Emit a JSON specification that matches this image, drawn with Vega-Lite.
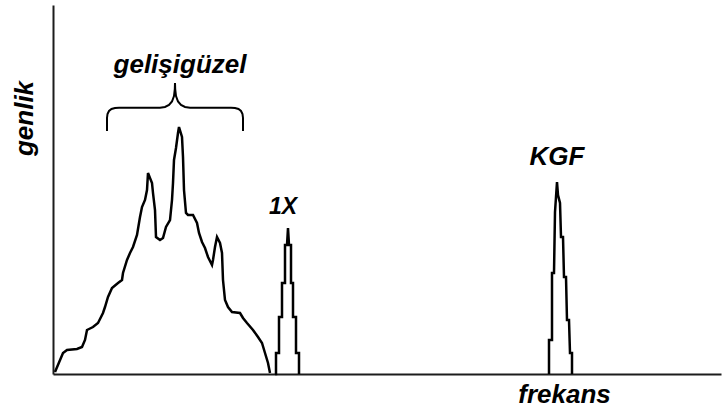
{
  "$schema": "https://vega.github.io/schema/vega-lite/v6.json",
  "width": 668,
  "height": 369,
  "autosize": {"type": "none"},
  "padding": {"left": 53, "top": 5, "right": 6, "bottom": 38},
  "background": "white",
  "config": {"view": {"stroke": null}},
  "datasets": {
    "spectrum": [
      {"band": "random", "f": 2, "a": 2},
      {"band": "random", "f": 10, "a": 21},
      {"band": "random", "f": 14, "a": 24},
      {"band": "random", "f": 24, "a": 25},
      {"band": "random", "f": 29, "a": 27},
      {"band": "random", "f": 32, "a": 34},
      {"band": "random", "f": 34, "a": 44},
      {"band": "random", "f": 40, "a": 47},
      {"band": "random", "f": 45, "a": 51},
      {"band": "random", "f": 50, "a": 61},
      {"band": "random", "f": 52, "a": 67},
      {"band": "random", "f": 55, "a": 77},
      {"band": "random", "f": 59, "a": 86},
      {"band": "random", "f": 65, "a": 91},
      {"band": "random", "f": 69, "a": 94},
      {"band": "random", "f": 70, "a": 101},
      {"band": "random", "f": 74, "a": 114},
      {"band": "random", "f": 77, "a": 121},
      {"band": "random", "f": 80, "a": 127},
      {"band": "random", "f": 84, "a": 139},
      {"band": "random", "f": 87, "a": 157},
      {"band": "random", "f": 89, "a": 167},
      {"band": "random", "f": 92, "a": 174},
      {"band": "random", "f": 94, "a": 184},
      {"band": "random", "f": 95, "a": 201},
      {"band": "random", "f": 99, "a": 191},
      {"band": "random", "f": 100, "a": 181},
      {"band": "random", "f": 102, "a": 164},
      {"band": "random", "f": 103, "a": 137},
      {"band": "random", "f": 107, "a": 134},
      {"band": "random", "f": 110, "a": 136},
      {"band": "random", "f": 113, "a": 147},
      {"band": "random", "f": 117, "a": 154},
      {"band": "random", "f": 119, "a": 174},
      {"band": "random", "f": 120, "a": 191},
      {"band": "random", "f": 121, "a": 214},
      {"band": "random", "f": 123, "a": 226},
      {"band": "random", "f": 125, "a": 241},
      {"band": "random", "f": 126, "a": 247},
      {"band": "random", "f": 129, "a": 237},
      {"band": "random", "f": 130, "a": 217},
      {"band": "random", "f": 131, "a": 184},
      {"band": "random", "f": 133, "a": 161},
      {"band": "random", "f": 135, "a": 159},
      {"band": "random", "f": 140, "a": 159},
      {"band": "random", "f": 144, "a": 151},
      {"band": "random", "f": 146, "a": 141},
      {"band": "random", "f": 149, "a": 132},
      {"band": "random", "f": 152, "a": 126},
      {"band": "random", "f": 155, "a": 117},
      {"band": "random", "f": 159, "a": 109},
      {"band": "random", "f": 160, "a": 114},
      {"band": "random", "f": 162, "a": 127},
      {"band": "random", "f": 164, "a": 137},
      {"band": "random", "f": 167, "a": 131},
      {"band": "random", "f": 169, "a": 121},
      {"band": "random", "f": 170, "a": 94},
      {"band": "random", "f": 172, "a": 74},
      {"band": "random", "f": 175, "a": 67},
      {"band": "random", "f": 179, "a": 62},
      {"band": "random", "f": 187, "a": 61},
      {"band": "random", "f": 190, "a": 56},
      {"band": "random", "f": 194, "a": 51},
      {"band": "random", "f": 200, "a": 44},
      {"band": "random", "f": 205, "a": 37},
      {"band": "random", "f": 209, "a": 31},
      {"band": "random", "f": 212, "a": 21},
      {"band": "random", "f": 215, "a": 11},
      {"band": "random", "f": 217, "a": 1},
      {"band": "1X", "f": 222, "a": 0},
      {"band": "1X", "f": 223, "a": 0},
      {"band": "1X", "f": 223, "a": 21},
      {"band": "1X", "f": 226, "a": 21},
      {"band": "1X", "f": 226, "a": 57},
      {"band": "1X", "f": 229, "a": 57},
      {"band": "1X", "f": 229, "a": 91},
      {"band": "1X", "f": 232, "a": 91},
      {"band": "1X", "f": 232, "a": 129},
      {"band": "1X", "f": 234, "a": 129},
      {"band": "1X", "f": 235, "a": 146},
      {"band": "1X", "f": 236, "a": 129},
      {"band": "1X", "f": 238, "a": 129},
      {"band": "1X", "f": 238, "a": 91},
      {"band": "1X", "f": 240, "a": 91},
      {"band": "1X", "f": 240, "a": 57},
      {"band": "1X", "f": 243, "a": 57},
      {"band": "1X", "f": 243, "a": 21},
      {"band": "1X", "f": 246, "a": 21},
      {"band": "1X", "f": 246, "a": 0},
      {"band": "KGF", "f": 496, "a": 0},
      {"band": "KGF", "f": 496, "a": 34},
      {"band": "KGF", "f": 499, "a": 34},
      {"band": "KGF", "f": 499, "a": 101},
      {"band": "KGF", "f": 501, "a": 101},
      {"band": "KGF", "f": 502, "a": 162},
      {"band": "KGF", "f": 504, "a": 192},
      {"band": "KGF", "f": 505, "a": 179},
      {"band": "KGF", "f": 507, "a": 171},
      {"band": "KGF", "f": 508, "a": 137},
      {"band": "KGF", "f": 510, "a": 137},
      {"band": "KGF", "f": 511, "a": 97},
      {"band": "KGF", "f": 513, "a": 97},
      {"band": "KGF", "f": 514, "a": 54},
      {"band": "KGF", "f": 516, "a": 54},
      {"band": "KGF", "f": 517, "a": 21},
      {"band": "KGF", "f": 519, "a": 21},
      {"band": "KGF", "f": 519, "a": 0}
    ],
    "brace": [
      {"f": 54, "a": 243},
      {"f": 54, "a": 256},
      {"f": 54.5, "a": 260},
      {"f": 56, "a": 263},
      {"f": 58.5, "a": 265},
      {"f": 62, "a": 266},
      {"f": 66, "a": 266.3},
      {"f": 107, "a": 266.3},
      {"f": 112, "a": 267},
      {"f": 116, "a": 269},
      {"f": 119, "a": 272.5},
      {"f": 121, "a": 278},
      {"f": 121.8, "a": 285},
      {"f": 122, "a": 291},
      {"f": 122.2, "a": 285},
      {"f": 123, "a": 278},
      {"f": 125, "a": 272.5},
      {"f": 128, "a": 269},
      {"f": 132, "a": 267},
      {"f": 137, "a": 266.3},
      {"f": 178, "a": 266.3},
      {"f": 182, "a": 266},
      {"f": 185.5, "a": 265},
      {"f": 188, "a": 263},
      {"f": 189.5, "a": 260},
      {"f": 190, "a": 256},
      {"f": 190, "a": 243}
    ],
    "labels": [
      {"text": "gelişigüzel", "f": 127, "a": 301},
      {"text": "KGF", "f": 504, "a": 209}
    ],
    "harmonic": [
      {"text": "1X", "f": 230, "a": 160}
    ]
  },
  "layer": [
    {
      "data": {"name": "spectrum"},
      "mark": {"type": "line", "color": "#000000", "strokeWidth": 2.5, "strokeJoin": "miter", "clip": false},
      "encoding": {
        "x": {
          "field": "f",
          "type": "quantitative",
          "scale": {"domain": [0, 668], "nice": false, "zero": false},
          "axis": {
            "domain": true,
            "domainColor": "#1c1c1c",
            "domainWidth": 2,
            "ticks": false,
            "labels": false,
            "grid": false,
            "title": "frekans",
            "titleFont": "Liberation Sans",
            "titleFontSize": 26,
            "titleFontWeight": "bold",
            "titleFontStyle": "italic",
            "titleColor": "#000000",
            "titleX": 511,
            "titleY": 28,
            "titleAlign": "center",
            "titleBaseline": "alphabetic"
          }
        },
        "y": {
          "field": "a",
          "type": "quantitative",
          "scale": {"domain": [0, 369], "nice": false, "zero": false},
          "axis": {
            "domain": true,
            "domainColor": "#1c1c1c",
            "domainWidth": 2,
            "ticks": false,
            "labels": false,
            "grid": false,
            "title": "genlik",
            "titleFont": "Liberation Sans",
            "titleFontSize": 26,
            "titleFontWeight": "bold",
            "titleFontStyle": "italic",
            "titleColor": "#000000",
            "titleAngle": 270,
            "titleX": -21,
            "titleY": 113,
            "titleAlign": "center",
            "titleBaseline": "alphabetic"
          }
        },
        "detail": {"field": "band", "type": "nominal"},
        "order": {"value": null}
      }
    },
    {
      "data": {"name": "brace"},
      "mark": {"type": "line", "color": "#000000", "strokeWidth": 2, "clip": false},
      "encoding": {
        "x": {"field": "f", "type": "quantitative"},
        "y": {"field": "a", "type": "quantitative"},
        "order": {"value": null}
      }
    },
    {
      "data": {"name": "labels"},
      "mark": {
        "type": "text",
        "font": "Liberation Sans",
        "fontSize": 26,
        "fontWeight": "bold",
        "fontStyle": "italic",
        "color": "#000000",
        "align": "center",
        "baseline": "alphabetic"
      },
      "encoding": {
        "x": {"field": "f", "type": "quantitative"},
        "y": {"field": "a", "type": "quantitative"},
        "text": {"field": "text", "type": "nominal"}
      }
    },
    {
      "data": {"name": "harmonic"},
      "mark": {
        "type": "text",
        "font": "Liberation Sans",
        "fontSize": 23,
        "fontWeight": "bold",
        "fontStyle": "italic",
        "color": "#000000",
        "align": "center",
        "baseline": "alphabetic"
      },
      "encoding": {
        "x": {"field": "f", "type": "quantitative"},
        "y": {"field": "a", "type": "quantitative"},
        "text": {"field": "text", "type": "nominal"}
      }
    }
  ]
}
